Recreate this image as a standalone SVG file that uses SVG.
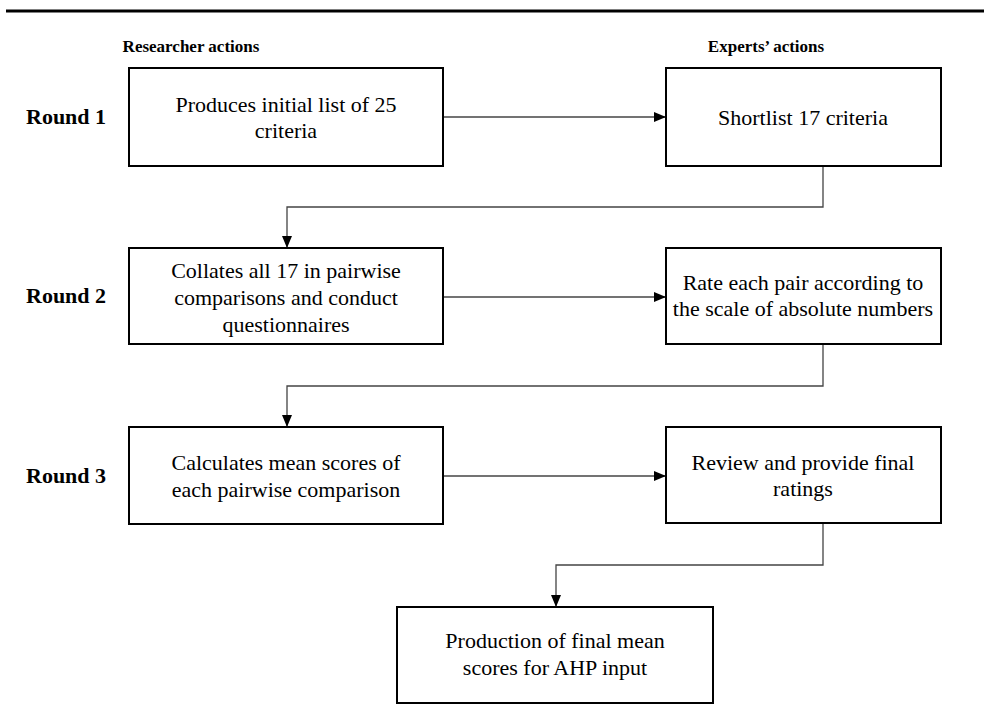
<svg xmlns="http://www.w3.org/2000/svg" width="984" height="721" viewBox="0 0 984 721">
<style>
text{font-family:'Liberation Serif',serif;fill:#000}
.box{fill:#fff;stroke:#000;stroke-width:2}
.t{font-size:22px;text-anchor:middle}
.h{font-size:17px;font-weight:bold;text-anchor:middle}
.r{font-size:22px;font-weight:bold}
.c{fill:none;stroke:#444;stroke-width:1.3}
</style>
<defs>
<marker id="arr" viewBox="0 0 12 10" refX="12" refY="5" markerWidth="12" markerHeight="10" markerUnits="userSpaceOnUse" orient="auto">
<path d="M0,0 L12,5 L0,10 Z" fill="#000"/>
</marker>
</defs>
<line x1="6" y1="11" x2="984" y2="11" stroke="#000" stroke-width="3"/>
<g id="headers">
<text class="h" x="191" y="52">Researcher actions</text>
<text class="h" x="766" y="52">Experts’ actions</text>
</g>
<g id="rounds">
<text class="r" x="26" y="124">Round 1</text>
<text class="r" x="26" y="303">Round 2</text>
<text class="r" x="26" y="483">Round 3</text>
</g>
<g id="connectors">
<line class="c" x1="443" y1="117" x2="666" y2="117" marker-end="url(#arr)"/>
<line class="c" x1="443" y1="297" x2="666" y2="297" marker-end="url(#arr)"/>
<line class="c" x1="443" y1="476" x2="666" y2="476" marker-end="url(#arr)"/>
<polyline class="c" points="823,166 823,207 287,207 287,248" marker-end="url(#arr)"/>
<polyline class="c" points="823,344 823,386 287,386 287,427" marker-end="url(#arr)"/>
<polyline class="c" points="823,523 823,565 556,565 556,607" marker-end="url(#arr)"/>
</g>
<g id="n1">
<rect class="box" x="129" y="68" width="314" height="98"/>
<text class="t" x="286" y="112">Produces initial list of 25</text>
<text class="t" x="286" y="138">criteria</text>
</g>
<g id="n2">
<rect class="box" x="666" y="68" width="275" height="98"/>
<text class="t" x="803" y="125">Shortlist 17 criteria</text>
</g>
<g id="n3">
<rect class="box" x="129" y="248" width="314" height="96"/>
<text class="t" x="286" y="278">Collates all 17 in pairwise</text>
<text class="t" x="286" y="305">comparisons and conduct</text>
<text class="t" x="286" y="332">questionnaires</text>
</g>
<g id="n4">
<rect class="box" x="666" y="248" width="275" height="96"/>
<text class="t" x="803" y="290">Rate each pair according to</text>
<text class="t" x="803" y="316">the scale of absolute numbers</text>
</g>
<g id="n5">
<rect class="box" x="129" y="427" width="314" height="97"/>
<text class="t" x="286" y="470">Calculates mean scores of</text>
<text class="t" x="286" y="497">each pairwise comparison</text>
</g>
<g id="n6">
<rect class="box" x="666" y="427" width="275" height="96"/>
<text class="t" x="803" y="470">Review and provide final</text>
<text class="t" x="803" y="496">ratings</text>
</g>
<g id="n7">
<rect class="box" x="397" y="607" width="316" height="96"/>
<text class="t" x="555" y="648">Production of final mean</text>
<text class="t" x="555" y="675">scores for AHP input</text>
</g>
</svg>
